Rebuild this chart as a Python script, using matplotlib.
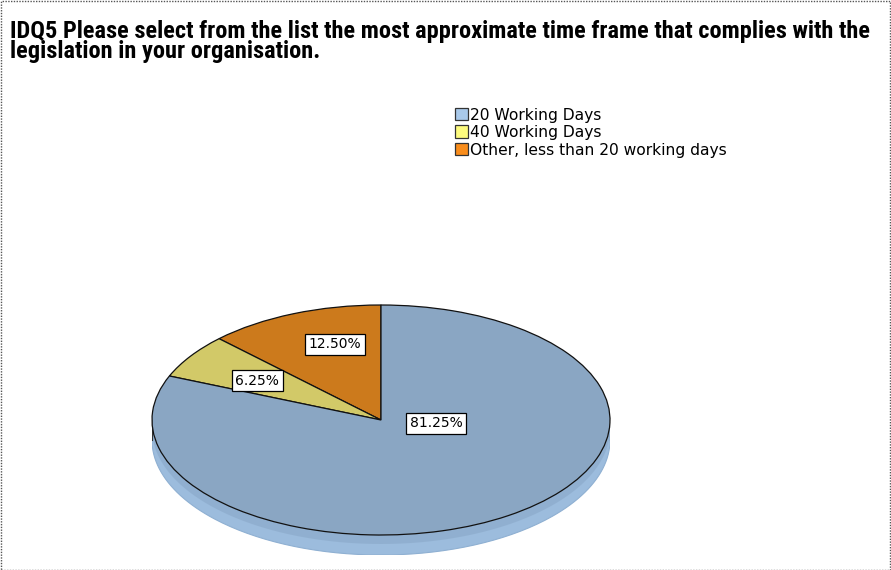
import numpy as np
import matplotlib
matplotlib.use("Agg")
import matplotlib.pyplot as plt
from matplotlib.patches import Rectangle, Polygon
from matplotlib import font_manager as fm

title = ("IDQ5 Please select from the list the most approximate time frame that complies with the\n"
         "legislation in your organisation.")
categories = ["20 Working Days", "40 Working Days", "Other, less than 20 working days"]
values = [81.25, 6.25, 12.50]
top_colors = ["#8aa6c3", "#d2c968", "#cc7a1c"]
side_colors = ["#9cbcdd", "#b5ad50", "#a8621a"]
legend_colors = ["#a9c9ea", "#fdfb7e", "#f98d1c"]

names = {f.name for f in fm.fontManager.ttflist}
title_family = None
for cand in ["Liberation Sans Narrow", "Roboto Condensed", "Open Sans Condensed", "DejaVu Sans Condensed"]:
    if cand in names:
        title_family = cand
        break

W, H = 891, 570
fig = plt.figure(figsize=(W / 100, H / 100), dpi=100)
fig.patch.set_facecolor("white")

# dotted frame
fig.add_artist(Rectangle((0.5 / W, 0.5 / H), 1 - 1.5 / W, 1 - 1.5 / H, transform=fig.transFigure,
                         fill=False, linestyle=(0, (1, 1)), linewidth=1.0, edgecolor="#555555"))

if title_family:
    fig.text(10 / W, 1 - 20 / H, title, ha="left", va="top", fontsize=17.6, fontweight="bold",
             family=title_family, linespacing=0.82, color="black")
else:
    fig.text(10 / W, 1 - 23 / H, title, ha="left", va="top", fontsize=11.6, fontweight="bold",
             family="Liberation Sans", linespacing=1.05, color="black")

# pie geometry (pixel layout)
x0, x1 = 152, 610
ytop, yface, ybot = 305, 535, 555
ry = (yface - ytop) / 2
depth = (ybot - yface) / ry
ax = fig.add_axes([x0 / W, (H - ybot) / H, (x1 - x0) / W, (ybot - ytop) / H])
ax.axis("off")

# order drawn counter-clockwise from top: Other, 40, 20
order = [2, 1, 0]
vals = [values[i] for i in order]
cols = [top_colors[i] for i in order]
scols = [side_colors[i] for i in order]

# side (3D rim)
start = 90.0
for v, sc in zip(vals, scols):
    a0, a1 = start, start + 360 * v / 100.0
    start = a1
    for k in (0, 360):
        lo, hi = max(a0, 180 + k), min(a1, 360 + k)
        if hi > lo:
            t = np.radians(np.linspace(lo, hi, 200))
            xs = np.cos(t)
            ys = np.sin(t)
            pts = np.concatenate([np.column_stack([xs, ys]),
                                  np.column_stack([xs[::-1], ys[::-1] - depth])])
            ax.add_patch(Polygon(pts, closed=True, facecolor=sc, edgecolor="none", zorder=1))
            pts2 = np.concatenate([np.column_stack([xs, ys]),
                                   np.column_stack([xs[::-1], ys[::-1] - depth * 0.45])])
            ax.add_patch(Polygon(pts2, closed=True, facecolor="#86a4c4", edgecolor="none",
                                 alpha=0.5, zorder=1))
            ax.plot(xs, ys - depth, color="#8fb0d2", lw=0.8, zorder=1)
ax.plot([-1, -1], [0, -depth], color="#333333", lw=0.8, zorder=1)
ax.plot([1, 1], [0, -depth], color="#333333", lw=0.8, zorder=1)

wedges, texts, autotexts = ax.pie(
    vals, colors=cols, startangle=90, counterclock=True, radius=1.0,
    autopct=lambda p: f"{p:.2f}%", pctdistance=0.65,
    wedgeprops=dict(edgecolor="#111111", linewidth=0.9),
    textprops=dict(fontsize=10, family="DejaVu Sans", color="black"),
)
ax.set_aspect("auto")
ax.set_xlim(-1.0, 1.0)
ax.set_ylim(-1.0 - depth, 1.0)
for w in wedges:
    w.set_zorder(2)
for t in autotexts:
    t.set_zorder(5)
    t.set_bbox(dict(boxstyle="square,pad=0.25", facecolor="white", edgecolor="black", linewidth=0.9))
autotexts[0].set_position((-0.2, 0.66))
autotexts[1].set_position((-0.54, 0.34))
autotexts[2].set_position((0.24, -0.03))

# legend
handles = [Rectangle((0, 0), 1, 1, facecolor=c, edgecolor="#333333", linewidth=0.9) for c in legend_colors]
fig.legend(handles, categories, loc="upper left", bbox_to_anchor=(453 / W, 1 - 106 / H),
           frameon=False, prop=dict(family="DejaVu Sans", size=11.2),
           handlelength=0.85, handleheight=0.85, handletextpad=0.15, labelspacing=0.16,
           borderpad=0.1, borderaxespad=0)

fig.savefig("out.png", dpi=100)
